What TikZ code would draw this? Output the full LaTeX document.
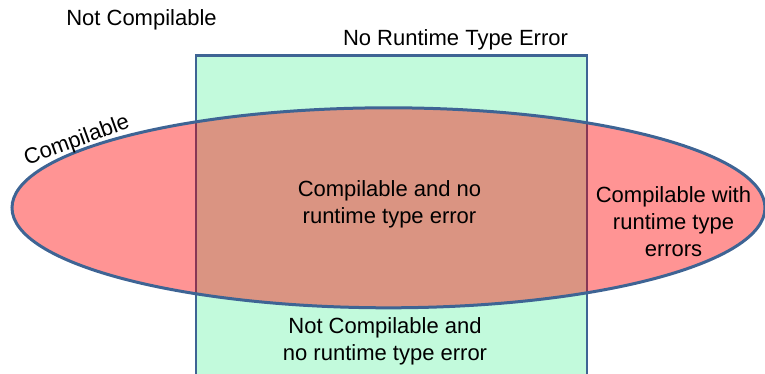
\documentclass[tikz,border=0pt]{standalone}
\usepackage{fontspec}
\setmainfont{Liberation Sans}
\definecolor{setpink}{RGB}{255,148,148}
\definecolor{setgreen}{RGB}{194,250,220}
\definecolor{setboth}{RGB}{218,148,130}
\definecolor{setblue}{RGB}{62,100,148}
\definecolor{setedge}{RGB}{135,55,85}
\tikzset{
  lbl/.style={inner sep=0pt, font=\fontsize{22}{27}\selectfont, align=center, text=black},
}
\begin{document}
\begin{tikzpicture}[x=1pt, y=-1pt]
  \useasboundingbox (0,0) rectangle (765,373);
  % the "no runtime type error" set
  \coordinate (rtl) at (196,55.5);
  \coordinate (rbr) at (587,376);
  \fill[setgreen] (rtl) rectangle (rbr);
  \draw[setblue, line width=2.5pt] (rtl) rectangle (rbr);
  % the "compilable" set
  \fill[setpink] (388.5,207.8) ellipse [x radius=376.5pt, y radius=100pt];
  \begin{scope}
    \clip (388.5,207.8) ellipse [x radius=376.5pt, y radius=100pt];
    \fill[setboth] (rtl) rectangle (rbr);
    \draw[setedge, line width=2pt] (196,100) -- (196,320);
    \draw[setedge, line width=2pt] (587,100) -- (587,320);
  \end{scope}
  \draw[setblue, line width=3pt] (388.5,207.8) ellipse [x radius=376.5pt, y radius=100pt];
  % labels
  \node[lbl, anchor=base] (notcomp) at (141.5,25) {Not Compilable};
  \node[lbl, anchor=base] (nortte) at (455.5,45) {No Runtime Type Error};
  \node[lbl, rotate=20] (comp) at (77,141) {Compilable};
  \node[lbl] (both) at (389.5,204.6) {Compilable and no\\runtime type error};
  \node[lbl] (rte) at (673.5,222) {Compilable with\\runtime type\\errors};
  \node[lbl] (neither) at (385,341.3) {Not Compilable and\\no runtime type error};
\end{tikzpicture}
\end{document}
